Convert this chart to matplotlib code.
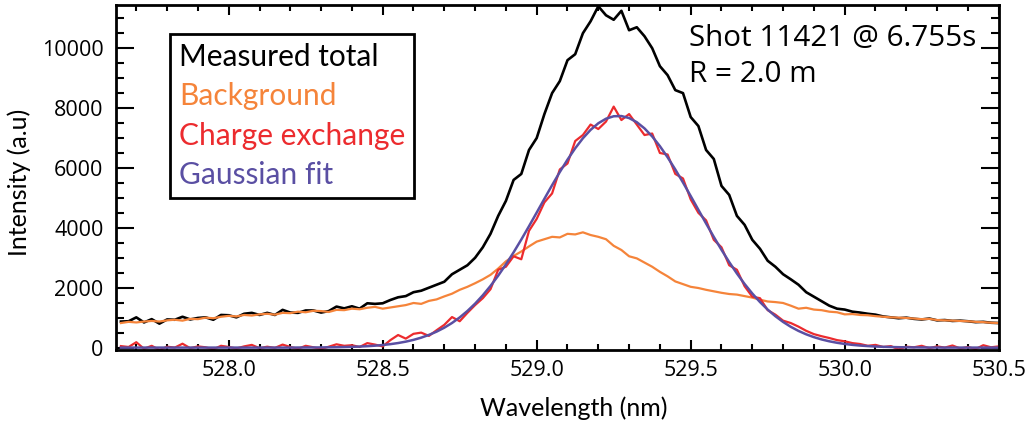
import numpy as np
import matplotlib
matplotlib.use('Agg')
import matplotlib.pyplot as plt
from matplotlib.ticker import MultipleLocator

plt.rcParams['font.family'] = ['Lato', 'DejaVu Sans']

# wavelength grid (nm), 0.025 nm steps from 527.65 to 530.50
wavelength = np.round(np.arange(115) * 0.025 + 527.65, 3)

measured_total = [
    870, 880, 1010, 840, 950, 800, 940, 930, 1030, 940,
    990, 1010, 930, 1090, 1080, 1010, 1130, 1160, 1090, 1160,
    1090, 1260, 1170, 1160, 1240, 1240, 1170, 1220, 1370, 1310,
    1380, 1300, 1480, 1460, 1480, 1590, 1680, 1720, 1850, 1900,
    2000, 2100, 2200, 2450, 2600, 2750, 3000, 3350, 3800, 4400,
    4900, 5600, 5800, 6600, 7000, 7800, 8500, 8900, 9600, 9800,
    10500, 10900, 11400, 11100, 10950, 11250, 10600, 10700, 10400, 10000,
    9400, 9100, 8600, 8500, 7700, 7400, 6600, 6300, 5400, 5100,
    4400, 4100, 3600, 3300, 2900, 2700, 2450, 2280, 2100, 1850,
    1700, 1550, 1400, 1300, 1270, 1200, 1170, 1130, 1100, 1040,
    1010, 980, 1000, 960, 940, 970, 910, 920, 890, 900,
    880, 850, 860, 830, 820,
]

background = [
    820, 860, 840, 870, 890, 870, 910, 930, 900, 960,
    950, 1000, 980, 1030, 1060, 1040, 1090, 1070, 1110, 1130,
    1100, 1160, 1150, 1200, 1180, 1230, 1220, 1190, 1260, 1250,
    1300, 1280, 1330, 1360, 1300, 1340, 1380, 1420, 1490, 1460,
    1560, 1610, 1710, 1800, 1930, 2030, 2150, 2280, 2430, 2640,
    2880, 3060, 3210, 3380, 3540, 3620, 3700, 3680, 3800, 3780,
    3850, 3760, 3700, 3620, 3400, 3260, 3050, 2980, 2840, 2700,
    2530, 2380, 2210, 2120, 2030, 1990, 1930, 1880, 1830, 1790,
    1770, 1720, 1670, 1600, 1540, 1520, 1490, 1400, 1300, 1330,
    1270, 1250, 1200, 1180, 1110, 1120, 1090, 1080, 1050, 1030,
    1010, 1000, 990, 970, 950, 960, 920, 910, 900, 890,
    880, 860, 850, 830, 820,
]

charge_exchange = [
    50, 20, 180, -40, 60, -80, 30, 0, 130, -20,
    40, 10, -60, 60, 20, -30, 40, 90, -20, 30,
    -10, 100, 20, -40, 60, 10, -50, 30, 110, 60,
    80, 20, 150, 100, 40, 250, 420, 300, 460, 500,
    390, 580, 760, 1020, 880, 1160, 1420, 1650, 1950, 2600,
    2700, 3050, 2950, 3900, 4300, 4850, 5150, 5950, 6150, 6900,
    7100, 7450, 7300, 7550, 8050, 7600, 7800, 7450, 7100, 7150,
    6500, 6450, 5800, 5650, 4950, 4500, 4250, 3600, 3350, 2750,
    2600, 2050, 1700, 1650, 1250, 1100, 900, 820, 700, 560,
    450, 380, 320, 250, 210, 150, 120, 60, 90, 20,
    50, -60, 30, 10, 60, -20, 40, 0, 70, -30,
    20, -50, 80, 10, 40,
]

gaussian_fit = [
    0, 0, 0, 0, 0, 0, 0, 0, 0, 0,
    0, 0, 0, 0, 0, 0, 0, 0, 0, 0,
    0, 0, 0, 2, 3, 4, 6, 9, 12, 18,
    25, 34, 47, 64, 86, 115, 152, 199, 258, 332,
    423, 533, 665, 822, 1007, 1222, 1468, 1747, 2059, 2403,
    2779, 3182, 3609, 4054, 4511, 4970, 5425, 5864, 6278, 6657,
    6992, 7273, 7493, 7645, 7727, 7734, 7667, 7529, 7322, 7052,
    6728, 6357, 5949, 5514, 5062, 4603, 4145, 3697, 3266, 2857,
    2476, 2125, 1807, 1521, 1268, 1048, 857, 694, 557, 443,
    349, 272, 210, 161, 122, 91, 68, 50, 36, 26,
    19, 13, 9, 6, 4, 3, 2, 0, 0, 0,
    0, 0, 0, 0, 0,
]

labels = ['Measured total', 'Background', 'Charge exchange', 'Gaussian fit']
colors = ['black', '#F5843A', '#EC2B2E', '#5A4FA3']

fig = plt.figure(figsize=(10.3, 4.25), dpi=100)
ax = fig.add_axes([0.1126, 0.1765, 0.857, 0.8115])

ax.plot(wavelength, measured_total, color=colors[0], lw=1.9, label=labels[0])
ax.plot(wavelength, background, color=colors[1], lw=1.6, label=labels[1])
ax.plot(wavelength, charge_exchange, color=colors[2], lw=1.6, label=labels[2])
ax.plot(wavelength, gaussian_fit, color=colors[3], lw=1.8, label=labels[3])

ax.set_xlim(527.634, 530.5)
ax.set_ylim(-80, 11440)

ax.xaxis.set_major_locator(MultipleLocator(0.5))
ax.xaxis.set_minor_locator(MultipleLocator(0.1))
ax.yaxis.set_major_locator(MultipleLocator(2000))
ax.yaxis.set_minor_locator(MultipleLocator(500))
ax.xaxis.set_major_formatter(matplotlib.ticker.FormatStrFormatter('%.1f'))

ax.tick_params(which='both', direction='in', top=True, right=True, width=1.5,
               labelsize=15.5, labelfontfamily='Open Sans', pad=7)
ax.tick_params(axis='y', which='major', length=13, pad=9)
ax.tick_params(axis='y', which='minor', length=6)
ax.tick_params(axis='x', which='major', length=7)
ax.tick_params(axis='x', which='minor', length=4)
for s in ax.spines.values():
    s.set_linewidth(2)

ax.set_xlabel('Wavelength (nm)', fontsize=18, labelpad=11, x=0.519)
ax.set_ylabel('Intensity (a.u)', fontsize=18, labelpad=8, y=0.487)

leg = ax.legend(loc='upper left', bbox_to_anchor=(0.061, 0.916), borderaxespad=0,
                handlelength=0, handletextpad=0, fontsize=21.5, labelspacing=0.38,
                fancybox=False, framealpha=1, edgecolor='black', borderpad=0.3)
leg.get_frame().set_linewidth(2)
for txt, c in zip(leg.get_texts(), colors):
    txt.set_color(c)
for h in leg.legend_handles:
    h.set_visible(False)

ax.text(0.649, 0.945, 'Shot 11421 @ 6.755s\nR = 2.0 m', transform=ax.transAxes,
        fontsize=21.3, fontfamily='Open Sans', va='top', ha='left', linespacing=1.33)

fig.savefig('out.png', dpi=100)
